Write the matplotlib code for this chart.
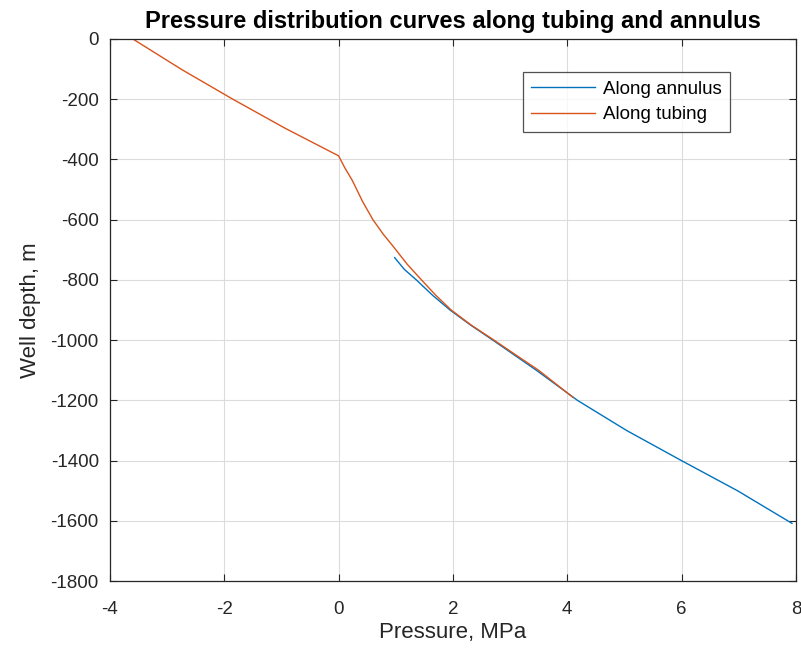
import numpy as np
import matplotlib
matplotlib.use('Agg')
import matplotlib.pyplot as plt

plt.rcParams['font.family'] = ['Liberation Sans', 'DejaVu Sans']
plt.rcParams['axes.unicode_minus'] = False

# Pressure (MPa) vs well depth (m)
annulus_p = [0.98, 1.15, 1.36, 1.65, 1.95, 2.31, 2.70, 3.08, 3.46, 3.82, 4.18, 5.04, 6.00, 6.98, 7.93]
annulus_d = [-726, -765, -800, -852, -900, -950, -1000, -1050, -1100, -1150, -1200, -1300, -1400, -1500, -1608]

tubing_p = [-3.60, -2.74, -1.85, -0.94, 0.00, 0.10, 0.24, 0.42, 0.60, 0.78, 0.96, 1.20, 1.45, 1.70, 1.97, 2.32, 2.72, 3.10, 3.50, 4.10]
tubing_d = [0, -102, -200, -296, -388, -425, -470, -540, -600, -648, -690, -748, -800, -851, -900, -950, -1000, -1049, -1100, -1190]

x_ticks = np.arange(-4, 9, 2)
y_ticks = np.arange(-1800, 1, 200)

fig = plt.figure(figsize=(8.01, 6.53), dpi=100)
ax = fig.add_axes([0.1373, 0.1100, 0.8564, 0.8303])

ax.plot(annulus_p, annulus_d, color='#0072BD', lw=1.0, label='Along annulus')
ax.plot(tubing_p, tubing_d, color='#D95319', lw=1.0, label='Along tubing')

ax.set_xlim(-4, 8)
ax.set_ylim(-1800, 0)
ax.set_xticks(x_ticks)
ax.set_yticks(y_ticks)
ax.grid(True, color='#dcdcdc', lw=0.8)
ax.set_axisbelow(True)
ax.tick_params(direction='in', top=True, right=True, length=5, width=0.8,
               colors='#262626', labelsize=13.5)
ax.tick_params(axis='x', pad=14)
ax.tick_params(axis='y', pad=8)
for s in ax.spines.values():
  s.set_color('#262626')
  s.set_linewidth(0.9)

ax.set_xlabel('Pressure, MPa', fontsize=16, color='#262626', labelpad=3)
ax.set_ylabel('Well depth, m', fontsize=16, color='#262626', labelpad=7)
ax.set_title('Pressure distribution curves along tubing and annulus',
             fontsize=17, fontweight='bold', pad=8)

leg = ax.legend(loc='upper left', bbox_to_anchor=(0.602, 0.939), fontsize=13.5,
                frameon=True, fancybox=False, edgecolor='#262626',
                handlelength=3.4, handletextpad=0.4, borderpad=0.45,
                labelspacing=0.45, borderaxespad=0)
leg.get_frame().set_linewidth(0.9)

fig.savefig('out.png', dpi=100)
